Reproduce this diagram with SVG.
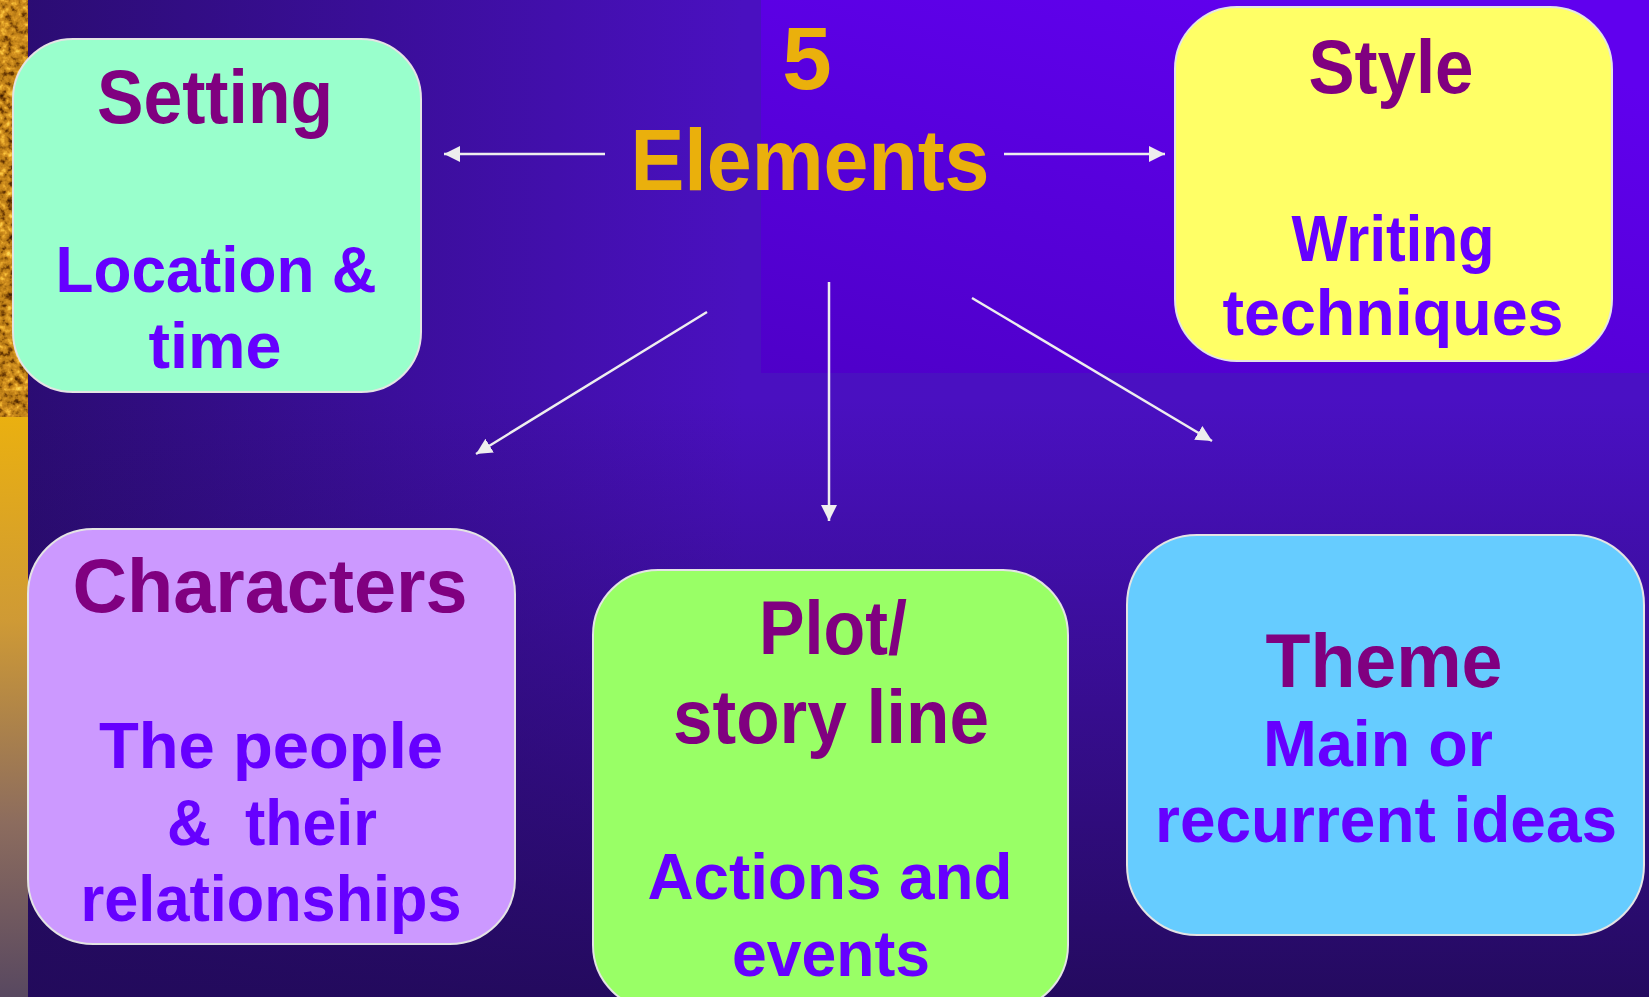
<svg xmlns="http://www.w3.org/2000/svg" width="1649" height="997" viewBox="0 0 1649 997">
<defs>
<linearGradient id="bgH" x1="0" y1="0" x2="1" y2="0">
<stop offset="0" stop-color="#2a0c70"/>
<stop offset="0.45" stop-color="#4a10c0"/>
<stop offset="1" stop-color="#4a10c4"/>
</linearGradient>
<linearGradient id="bgV" x1="0" y1="0" x2="0" y2="1">
<stop offset="0" stop-color="#220a5a" stop-opacity="0"/>
<stop offset="0.4" stop-color="#220a5a" stop-opacity="0"/>
<stop offset="1" stop-color="#220a5a" stop-opacity="0.95"/>
</linearGradient>
<linearGradient id="tr" x1="0" y1="1" x2="0.6" y2="0">
<stop offset="0" stop-color="#4e00c8"/>
<stop offset="1" stop-color="#6000ee"/>
</linearGradient>
<linearGradient id="strip" x1="0" y1="0" x2="0" y2="1">
<stop offset="0" stop-color="#eab010"/>
<stop offset="0.35" stop-color="#cf9a35"/>
<stop offset="0.7" stop-color="#8c6c5e"/>
<stop offset="1" stop-color="#584860"/>
</linearGradient>
<filter id="grain" x="0" y="0" width="1" height="1" color-interpolation-filters="sRGB">
<feTurbulence type="fractalNoise" baseFrequency="0.14" numOctaves="3" seed="7"/>
<feColorMatrix type="matrix" values="1 0 0 0 0  1 0 0 0 0  1 0 0 0 0  0 0 0 0 1"/>
<feComponentTransfer>
<feFuncR type="table" tableValues="0.2 0.25 0.45 0.72 0.82 0.95 1 1"/>
<feFuncG type="table" tableValues="0.1 0.12 0.25 0.48 0.56 0.72 0.85 0.9"/>
<feFuncB type="table" tableValues="0 0 0.02 0.08 0.12 0.2 0.35 0.4"/>
</feComponentTransfer>
</filter>
<marker id="ah" markerUnits="userSpaceOnUse" markerWidth="18" markerHeight="16" refX="16" refY="8" orient="auto">
<path d="M0,0 L16,8 L0,16 Z" fill="#eeeeee"/>
</marker>
<style>
.box{stroke:#e4e4e4;stroke-width:2}
.h{font-family:"Liberation Sans",Arial,sans-serif;font-weight:bold;fill:#800080;text-anchor:middle;font-size:76px}
.s{font-family:"Liberation Sans",Arial,sans-serif;font-weight:bold;fill:#6600ff;text-anchor:middle;font-size:64px}
.t{font-family:"Liberation Sans",Arial,sans-serif;font-weight:bold;fill:#eab00c;text-anchor:middle}
.c{stroke:#eeeeee;stroke-width:2.5;fill:none;marker-end:url(#ah)}
</style>
</defs>
<rect x="0" y="0" width="1649" height="997" fill="url(#bgH)"/>
<rect x="0" y="0" width="1649" height="997" fill="url(#bgV)"/>
<rect x="761" y="0" width="888" height="373" fill="url(#tr)"/>
<rect x="0" y="417" width="28" height="580" fill="url(#strip)"/>
<rect x="0" y="0" width="28" height="417" filter="url(#grain)"/>

<g id="connectors">
<line class="c" x1="605" y1="154" x2="444" y2="154"/>
<line class="c" x1="1004" y1="154" x2="1165" y2="154"/>
<line class="c" x1="707" y1="312" x2="476" y2="454"/>
<line class="c" x1="829" y1="282" x2="829" y2="521"/>
<line class="c" x1="972" y1="298" x2="1212" y2="441"/>
</g>

<g id="title">
<text class="t" x="807" y="89" font-size="89">5</text>
<text class="t" x="810" y="190" font-size="88" textLength="359" lengthAdjust="spacingAndGlyphs">Elements</text>
</g>

<g id="setting">
<rect class="box" x="13" y="39" width="408" height="353" rx="60" fill="#99ffcc"/>
<text class="h" x="215" y="123" textLength="236" lengthAdjust="spacingAndGlyphs">Setting</text>
<text class="s" x="216" y="292" textLength="321" lengthAdjust="spacingAndGlyphs">Location &amp;</text>
<text class="s" x="215" y="368" textLength="133" lengthAdjust="spacingAndGlyphs">time</text>
</g>

<g id="style">
<rect class="box" x="1175" y="7" width="437" height="354" rx="62" fill="#ffff66"/>
<text class="h" x="1391" y="93" textLength="165" lengthAdjust="spacingAndGlyphs">Style</text>
<text class="s" x="1393" y="261" textLength="203" lengthAdjust="spacingAndGlyphs">Writing</text>
<text class="s" x="1393" y="335" textLength="341" lengthAdjust="spacingAndGlyphs">techniques</text>
</g>

<g id="characters">
<rect class="box" x="28" y="529" width="487" height="415" rx="65" fill="#cc99ff"/>
<text class="h" x="270" y="612" textLength="395" lengthAdjust="spacingAndGlyphs">Characters</text>
<text class="s" x="271" y="768" textLength="344" lengthAdjust="spacingAndGlyphs">The people</text>
<text class="s" x="272" y="845" textLength="210" lengthAdjust="spacingAndGlyphs" xml:space="preserve">&amp;  their</text>
<text class="s" x="271" y="921" textLength="381" lengthAdjust="spacingAndGlyphs">relationships</text>
</g>

<g id="plot">
<rect class="box" x="593" y="570" width="475" height="440" rx="65" fill="#99ff66"/>
<text class="h" x="833" y="654" textLength="148" lengthAdjust="spacingAndGlyphs">Plot/</text>
<text class="h" x="831" y="743" textLength="316" lengthAdjust="spacingAndGlyphs">story line</text>
<text class="s" x="830" y="899" textLength="365" lengthAdjust="spacingAndGlyphs">Actions and</text>
<text class="s" x="831" y="976" textLength="198" lengthAdjust="spacingAndGlyphs">events</text>
</g>

<g id="theme">
<rect class="box" x="1127" y="535" width="517" height="400" rx="70" fill="#66ccff"/>
<text class="h" x="1384" y="687" textLength="237" lengthAdjust="spacingAndGlyphs">Theme</text>
<text class="s" x="1378" y="766" textLength="230" lengthAdjust="spacingAndGlyphs">Main or</text>
<text class="s" x="1386" y="842" textLength="462" lengthAdjust="spacingAndGlyphs">recurrent ideas</text>
</g>
</svg>
